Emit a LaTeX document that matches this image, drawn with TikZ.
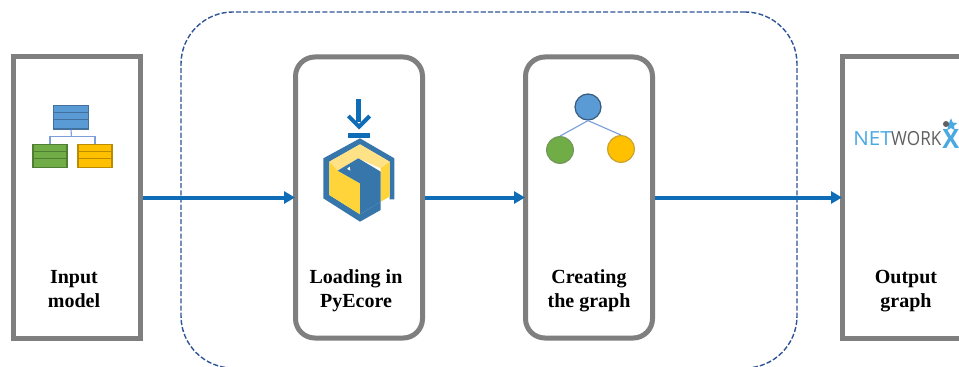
\documentclass[tikz,border=0pt]{standalone}
\usepackage{fontspec}
\setmainfont{Liberation Serif}
\newfontfamily\logofont{Open Sans}
\usetikzlibrary{arrows.meta,shapes.geometric}
\definecolor{boxgray}{HTML}{7F7F7F}
\definecolor{flowblue}{HTML}{0F6DB8}
\definecolor{dashblue}{HTML}{2F5597}
\definecolor{tblue}{HTML}{5B9BD5}\definecolor{tblueb}{HTML}{41719C}
\definecolor{tgreen}{HTML}{70AD47}\definecolor{tgreenb}{HTML}{507E32}
\definecolor{tyellow}{HTML}{FFC000}\definecolor{tyellowb}{HTML}{BC8C00}
\definecolor{linkblue}{HTML}{7C9FDC}
\definecolor{pyblue}{HTML}{3776AB}\definecolor{pyyellow}{HTML}{FFD43B}\definecolor{pylight}{HTML}{FFE285}
\definecolor{nxblue}{HTML}{4BA9E2}\definecolor{nxgray}{HTML}{606060}
\newcommand{\lbl}[2]{\strut #1\\\strut #2}
\tikzset{
  x=0.75pt,y=-0.75pt,
  plainbox/.style={draw=boxgray,line width=3.75pt,minimum width=95.25pt,minimum height=210.75pt,fill=white},
  roundbox/.style={plainbox,rounded corners=14.5pt},
  container/.style={draw=dashblue,line width=1.05pt,dash pattern=on 3.8pt off 1.6pt,rounded corners=39pt,minimum width=462pt,minimum height=267pt},
  flow/.style={draw=flowblue,line width=3pt,-{Triangle[length=8.25pt,width=9pt]},shorten >=-1.5pt},
  boxlabel/.style={align=center,font=\fontsize{15}{18}\selectfont\bfseries,inner sep=0pt},
  tbl/.style={minimum width=25.5pt,minimum height=17.25pt,line width=1.1pt,inner sep=0pt},
  tlink/.style={draw=linkblue,line width=0.85pt},
  dot/.style={circle,line width=0.9pt,inner sep=0pt},
  logo/.style={anchor=base west,inner sep=0pt,font=\logofont\fontsize{14.6}{14.6}\selectfont}
}
\begin{document}
\begin{tikzpicture}
\clip (0,0) rectangle (959,367);
\fill[white] (0,0) rectangle (959,367);
\node[container] (group) at (489,190) {};
\node[plainbox] (input) at (77,197.5) {};
\node[roundbox] (load) at (359,197.5) {};
\node[roundbox] (create) at (589,197.5) {};
\node[plainbox] (output) at (906,197.5) {};
\draw[flow] (input.east) -- (load.west);
\draw[flow] (load.east) -- (create.west);
\draw[flow] (create.east) -- (output.west);
\node[boxlabel] (l1) at (74,291) {\lbl{Input}{model}};
\node[boxlabel] (l2) at (356,291) {\lbl{Loading in}{PyEcore}};
\node[boxlabel] (l3) at (589,291) {\lbl{Creating}{the graph}};
\node[boxlabel] (l4) at (906,291) {\lbl{Output}{graph}};
% tables
\node[tbl,draw=tblueb,fill=tblue,minimum width=26pt,minimum height=17.6pt] (tb) at (71,117.3) {};
\node[tbl,draw=tgreenb,fill=tgreen] (tg) at (50,155.8) {};
\node[tbl,draw=tyellowb,fill=tyellow] (ty) at (95,155.8) {};
\draw[tblueb,line width=1pt] (tb.west |- 0,112.8) -- (tb.east |- 0,112.8) (tb.west |- 0,119.3) -- (tb.east |- 0,119.3);
\draw[tgreenb,line width=1pt] (tg.west |- 0,151.7) -- (tg.east |- 0,151.7) (tg.west |- 0,158.3) -- (tg.east |- 0,158.3);
\draw[tyellowb,line width=1pt] (ty.west |- 0,151.7) -- (ty.east |- 0,151.7) (ty.west |- 0,158.3) -- (ty.east |- 0,158.3);
\coordinate (tj) at (71.5,136.5);
\draw[tlink] (tb.south) -- (tj);
\draw[tlink] (tg.north) |- (tj) -| (ty.north);
% PyEcore icon
\begin{scope}[shift={(285,80)},x=0.25pt,y=-0.25pt]
\fill[flowblue] (214,58) rectangle (229,125);
\draw[flowblue,line width=3pt] (190,108) -- (222,140) -- (254,108);
\fill[flowblue] (189,160) rectangle (254,175);
\fill[pyblue] (225,175) -- (328,235) -- (328,358) -- (314,358) -- (314,245) -- (225,193) -- (133,245) -- (133,345) -- (225,403) -- (287,365) -- (287,390) -- (225,425) -- (115,355) -- (115,235) -- cycle;
\fill[pylight] (225,193) -- (314,245) -- (287,265) -- (220,235) -- (158,272) -- (133,245) -- cycle;
\fill[pyyellow] (133,245) -- (158,272) -- (225,310) -- (225,403) -- (133,345) -- cycle;
\fill[pyyellow] (287,265) -- (314,245) -- (314,350) -- (287,365) -- cycle;
\fill[pyblue] (158,272) -- (220,235) -- (287,275) -- (287,365) -- (225,403) -- (225,310) -- cycle;
\fill[white] (186,267) -- (194,260) -- (196,272) -- cycle;
\end{scope}
% graph icon
\node[dot,draw=tblueb!80!black,fill=tblue,minimum size=19.5pt] (gb) at (588,107) {};
\node[dot,draw=tgreenb!80!white,fill=tgreen,minimum size=20pt] (gg) at (560,150) {};
\node[dot,draw=tyellowb!80!white,fill=tyellow,minimum size=20pt] (gy) at (621,149) {};
\draw[tlink] (gb.south) -- (gg.north);
\draw[tlink] (gb.south) -- (gy.north);
% NetworkX logo
\node[logo,text=nxblue,xscale=1.06] (nx1) at (853,146) {NET};
\node[logo,text=nxgray,xscale=0.88] (nx2) at (891,146) {WORK};
\node[logo,text=nxblue,font=\logofont\bfseries\fontsize{20}{20}\selectfont,xscale=0.95] (nx3) at (942,148) {X};
\node[star,star points=5,star point ratio=2.2,fill=nxblue,inner sep=0pt,minimum size=10pt] (nxs) at (951,125) {};
\node[circle,fill=nxgray,inner sep=0pt,minimum size=4.5pt] (nxd) at (946,124) {};
\end{tikzpicture}
\end{document}
